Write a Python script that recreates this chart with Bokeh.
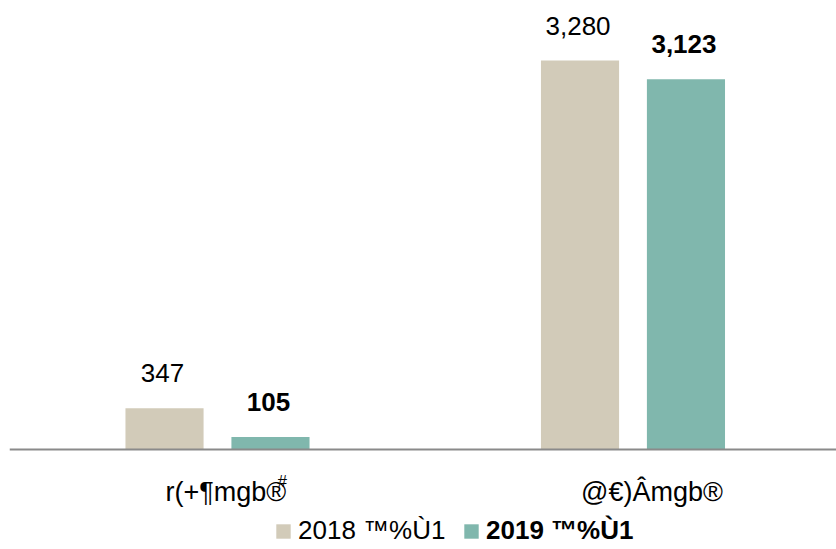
from bokeh.plotting import figure
from bokeh.models import ColumnDataSource, Range1d, Span, Legend, LegendItem
from bokeh.core.properties import value
from bokeh.transform import dodge
from bokeh.embed import file_html
from bokeh.resources import INLINE

categories = ["r(+¶mgb®", "@€)Âmgb®"]
category_marks = ["#", ""]
series_names = ["2018 ™%Ù1", "2019 ™%Ù1"]
values_2018 = [347, 3280]
values_2019 = [105, 3123]
labels_2018 = ["347", "3,280"]
labels_2019 = ["105", "3,123"]

C18 = "#D2CBB9"
C19 = "#80B7AD"
FONT = value("Liberation Sans")

src = ColumnDataSource(dict(
    x=list(range(len(categories))), cat=categories, mark=category_marks,
    v18=values_2018, v19=values_2019, l18=labels_2018, l19=labels_2019,
))

p = figure(width=836, height=549,
           x_range=Range1d(-0.5006, 1.4898), y_range=Range1d(-843, 3786),
           output_backend="svg", toolbar_location=None,
           min_border_left=9, min_border_right=0, min_border_top=0, min_border_bottom=0)
p.axis.visible = False
p.grid.visible = False
p.outline_line_color = None
p.background_fill_color = "white"

OFF = 0.1275
W = 0.188
r18 = p.vbar(x=dodge("x", -OFF), top="v18", width=W, source=src,
             fill_color=C18, line_color=None)
r19 = p.vbar(x=dodge("x", OFF), top="v19", width=W, source=src,
             fill_color=C19, line_color=None)

p.add_layout(Span(location=0, dimension="width", line_color="#8A8A8A", line_width=2))

p.text(x=dodge("x", -OFF), y="v18", text="l18", source=src, text_align="center",
       text_baseline="middle", y_offset=-35, x_offset=-2, text_font=FONT,
       text_font_size="26px", text_color="black")
p.text(x=dodge("x", OFF), y="v19", text="l19", source=src, text_align="center",
       text_baseline="middle", y_offset=-35, x_offset=-2, text_font=FONT,
       text_font_size="26px", text_font_style="bold", text_color="black")

p.text(x="x", y=0, text="cat", source=src, text_align="left", text_baseline="middle",
       x_offset=-52, y_offset=42, text_font=FONT, text_font_size="27px", text_color="black")
p.text(x="x", y=0, text="mark", source=src, text_align="left", text_baseline="middle",
       x_offset=60, y_offset=32, text_font=FONT, text_font_size="17px", text_color="black")

common = dict(label_text_font="Liberation Sans", label_text_font_size="26px",
              label_text_color="black", glyph_width=18, glyph_height=18,
              label_standoff=6, padding=0, margin=0, spacing=0,
              border_line_color=None, background_fill_alpha=0,
              label_text_baseline="middle")
leg1 = Legend(items=[LegendItem(label=series_names[0], renderers=[r18])],
              location=(265, 3), **common)
leg2 = Legend(items=[LegendItem(label=series_names[1], renderers=[r19])],
              location=(453, 3), label_text_font_style="bold", **common)
p.add_layout(leg1)
p.add_layout(leg2)

open("out.html", "w").write(file_html(p, INLINE))
